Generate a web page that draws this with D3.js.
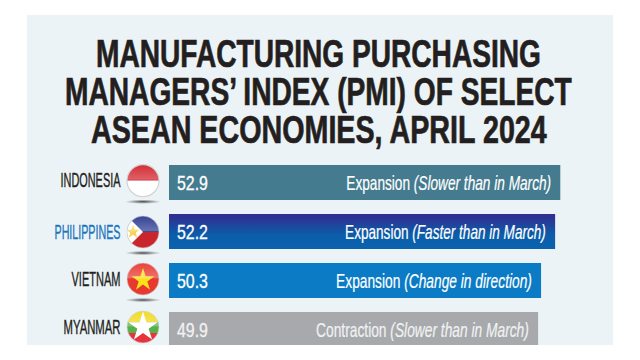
<!DOCTYPE html>
<html>
<head>
<meta charset="utf-8">
<script src="https://cdn.jsdelivr.net/npm/d3@7"></script>
<style>
  html, body { margin: 0; padding: 0; background: #fff; }
  svg { display: block; }
  text { font-family: "Liberation Sans Narrow", "Liberation Sans", sans-serif; }
</style>
</head>
<body>
<div id="chart"></div>
<script>
// values
const countries = ['INDONESIA', 'PHILIPPINES', 'VIETNAM', 'MYANMAR'];
const pmiValues = [52.9, 52.2, 50.3, 49.9];
const statusWords = ['Expansion', 'Expansion', 'Expansion', 'Contraction'];
const statusNotes = ['(Slower than in March)', '(Faster than in March)', '(Change in direction)', '(Slower than in March)'];
const titleLines = ['MANUFACTURING PURCHASING', 'MANAGERS\u2019 INDEX (PMI) OF SELECT', 'ASEAN ECONOMIES, APRIL 2024'];

const width = 640, height = 360;
const panel = {x: 27, y: 15, w: 586, h: 330};

const svg = d3.select('#chart').append('svg')
    .attr('width', width)
    .attr('height', height);

const defs = svg.append('defs');

defs.append('clipPath').attr('id', 'panelClip')
    .append('rect')
    .attr('x', panel.x).attr('y', panel.y)
    .attr('width', panel.w).attr('height', panel.h);

const phGrad = defs.append('linearGradient').attr('id', 'phBar')
    .attr('x1', 0).attr('y1', 0).attr('x2', 0).attr('y2', 1);
phGrad.append('stop').attr('offset', '0.08').attr('stop-color', '#2e3192');
phGrad.append('stop').attr('offset', '0.6').attr('stop-color', '#0b5ea9');
phGrad.append('stop').attr('offset', '1').attr('stop-color', '#0b62ae');

// glossy highlight laid over the flags
const gloss = defs.append('linearGradient').attr('id', 'gloss')
    .attr('x1', 0).attr('y1', 0).attr('x2', 0).attr('y2', 1);
gloss.append('stop').attr('offset', '0').attr('stop-color', '#fff').attr('stop-opacity', 0.05);
gloss.append('stop').attr('offset', '0.45').attr('stop-color', '#fff').attr('stop-opacity', 0.28);
gloss.append('stop').attr('offset', '0.5').attr('stop-color', '#fff').attr('stop-opacity', 0);

const shadow = defs.append('radialGradient').attr('id', 'flagShadow');
shadow.append('stop').attr('offset', '0').attr('stop-color', '#333').attr('stop-opacity', 0.9);
shadow.append('stop').attr('offset', '1').attr('stop-color', '#555').attr('stop-opacity', 0);

defs.append('clipPath').attr('id', 'flagClip')
    .append('circle').attr('r', 16);

svg.append('rect')
    .attr('x', panel.x).attr('y', panel.y)
    .attr('width', panel.w).attr('height', panel.h)
    .attr('fill', '#ecf3f6');

// squeeze a text to the width it has in the picture
function fit(sel, x, y, w, anchor) {
    sel.each(function() {
        const natural = this.getComputedTextLength();
        const left = anchor === 'end' ? x - w : x;
        d3.select(this).attr('transform', `translate(${left},${y}) scale(${w / natural},1)`);
    });
}

const titleX = [96, 65, 91];
const titleW = [445, 507, 456];
const titleY = [67, 105, 143];
titleLines.forEach((line, i) => {
    svg.append('text')
        .attr('font-size', 39)
        .attr('font-weight', 700)
        .attr('fill', '#231f20')
        .attr('stroke', '#231f20')
        .attr('stroke-width', 0.7)
        .text(line)
        .call(fit, titleX[i], titleY[i], titleW[i]);
});

const x = d3.scaleLinear().domain([0, 52.9]).range([169, 560.3]);
const y = d3.scaleBand().domain(countries).range([165, 347]).paddingInner(14 / 49);

const barFill = ['#457b8e', 'url(#phBar)', '#0a7bc4', '#a7a9ac'];
const labelFill = ['#231f20', '#1b75bc', '#231f20', '#231f20'];
const labelW = [60, 66, 49, 57];
const noteW = [205, 201, 196, 213];
const flagY = [180.7, 232, 279, 327];

const plot = svg.append('g').attr('clip-path', 'url(#panelClip)');

const rows = plot.selectAll('.row')
    .data(countries)
    .join('g')
    .attr('class', 'row');

rows.append('rect')
    .attr('x', x(0))
    .attr('y', d => y(d))
    .attr('width', (d, i) => x(pmiValues[i]) - x(0))
    .attr('height', y.bandwidth())
    .attr('fill', (d, i) => barFill[i]);

rows.append('text')
    .attr('font-size', 20)
    .attr('fill', (d, i) => i === 3 ? '#f1f2f2' : '#fff')
    .attr('stroke', (d, i) => i === 3 ? '#f1f2f2' : '#fff')
    .attr('stroke-width', 0.3)
    .text((d, i) => pmiValues[i].toFixed(1))
    .each(function(d) {
        fit(d3.select(this), x(0) + 8, y(d) + y.bandwidth() / 2 + 7, 31);
    });

rows.append('text')
    .attr('font-size', 20)
    .attr('fill', (d, i) => i === 3 ? '#f1f2f2' : '#fff')
    .attr('stroke', (d, i) => i === 3 ? '#f1f2f2' : '#fff')
    .attr('stroke-width', 0.2)
    .each(function(d, i) {
        const t = d3.select(this);
        t.append('tspan').text(statusWords[i] + ' ');
        t.append('tspan').attr('font-style', 'italic').text(statusNotes[i]);
        fit(t, x(pmiValues[i]) - 9, y(d) + y.bandwidth() / 2 + 7, noteW[i], 'end');
    });

// the country names sit level with their flags
rows.append('text')
    .attr('font-size', 21)
    .attr('fill', (d, i) => labelFill[i])
    .attr('stroke', (d, i) => labelFill[i])
    .attr('stroke-width', 0.4)
    .text(d => d)
    .each(function(d, i) {
        fit(d3.select(this), 120.5, flagY[i] + 6.7, labelW[i], 'end');
    });

// flags, drawn around the centre of a badge of radius 16
function drawFlag(g, i) {
    const f = g.append('g').attr('clip-path', 'url(#flagClip)');
    const band = (y0, h, c) => f.append('rect').attr('x', -16).attr('y', y0).attr('width', 32).attr('height', h).attr('fill', c);
    const star = (r, c) => f.append('path')
        .attr('d', d3.symbol(d3.symbolStar, r * r * 1.6)())
        .attr('fill', c);
    if (i === 0) {
        band(-16, 16, '#d2232a');
        band(0, 16, '#fff');
    } else if (i === 1) {
        band(-16, 16, '#2b3a8f');
        band(0, 16, '#c9252c');
        f.append('path').attr('d', 'M-16,-16L0,0L-16,16Z').attr('fill', '#fff');
        f.append('circle').attr('cx', -10).attr('r', 3).attr('fill', '#f9c623');
        star(6, '#f9d25a').attr('transform', 'translate(-10,0)');
    } else if (i === 2) {
        band(-16, 32, '#e8392f');
        star(10, '#fbe11c').attr('transform', 'translate(0,1)');
    } else {
        band(-16, 11, '#f2d91f');
        band(-5, 11, '#58b04b');
        band(6, 10, '#e5343b');
        star(13, '#fff');
    }
    f.append('rect').attr('x', -16).attr('y', -16).attr('width', 32).attr('height', 32).attr('fill', 'url(#gloss)');
    g.append('circle').attr('r', 16).attr('fill', 'none').attr('stroke', '#cfd4d6').attr('stroke-width', i === 0 ? 1.2 : 0.6);
}

rows.append('ellipse')
    .attr('cx', 143)
    .attr('cy', (d, i) => flagY[i] + 21)
    .attr('rx', 18)
    .attr('ry', 2.2)
    .attr('fill', 'url(#flagShadow)');

rows.append('g')
    .attr('transform', (d, i) => `translate(143,${flagY[i]})`)
    .each(function(d, i) { drawFlag(d3.select(this), i); });
</script>
</body>
</html>
